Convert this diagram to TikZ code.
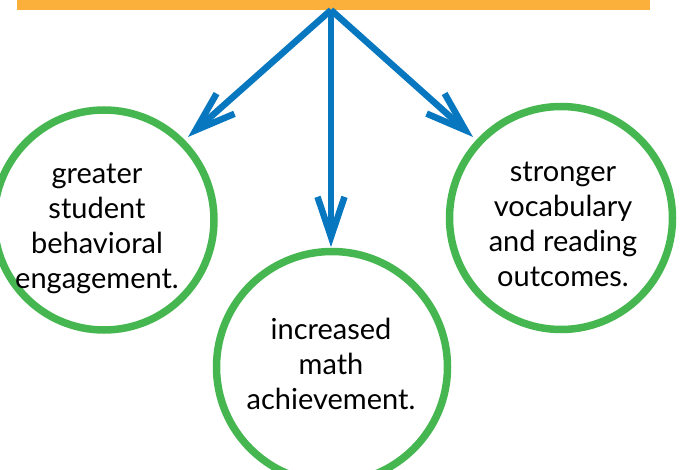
\documentclass[tikz,border=0pt]{standalone}
\usepackage{fontspec}
\setmainfont{Lato}
\usetikzlibrary{arrows.meta}
\definecolor{barorange}{HTML}{FBB03B}
\definecolor{arrowblue}{HTML}{0777C0}
\definecolor{ringgreen}{HTML}{46B750}
\tikzset{
  ring/.style={circle, draw=ringgreen, line width=7.5pt, inner sep=0pt},
  txt/.style={align=center, inner sep=0pt, font=\fontsize{29}{35}\selectfont, text=black},
  conn/.style={draw=arrowblue, line width=6.5pt,
    -{Straight Barb[length=40pt, width=27pt, line width=6.5pt]}}
}
\begin{document}
\begin{tikzpicture}[x=1pt,y=-1pt]
\useasboundingbox (0,0) rectangle (680,470);
\node[fill=barorange, inner sep=0pt, minimum width=633pt, minimum height=10pt] (bar) at (333.5,5) {};
\coordinate (src) at (331,10);
\coordinate (tipL) at (188,137);
\coordinate (tipM) at (331,247);
\coordinate (tipR) at (473,137);
\node[ring, minimum size=220pt] (left) at (104,220) {};
\node[ring, minimum size=231pt] (mid) at (332,367) {};
\node[ring, minimum size=223pt] (right) at (561,218) {};
\node[txt] (lefttxt) at (97,229) {greater\\student\\behavioral\\engagement.};
\node[txt] (midtxt) at (331,364) {increased\\math\\achievement.};
\node[txt] (righttxt) at (563,224.5) {stronger\\vocabulary\\and reading\\outcomes.};
\draw[conn] (src) -- (tipL);
\draw[conn] (src) -- (tipM);
\draw[conn] (src) -- (tipR);
\end{tikzpicture}
\end{document}
